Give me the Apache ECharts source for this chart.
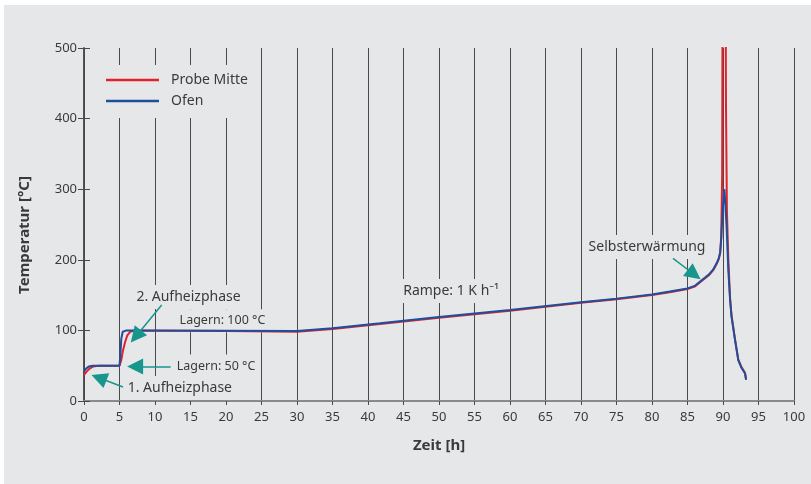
<!DOCTYPE html>
<html>
<head>
<meta charset="utf-8">
<script src="https://cdn.jsdelivr.net/npm/echarts@6/dist/echarts.min.js"></script>
<style>
  html, body { margin: 0; padding: 0; background: #ffffff; }
  #chart { position: absolute; left: 4px; top: 5px; width: 807px; height: 479px; }
</style>
</head>
<body>
<div id="chart"></div>
<script>
// Furnace temperature (Ofen) over time [h] -> [°C]
const ofenTime = [0, 0.3, 0.7, 1.2, 5.0, 5.12, 5.25, 5.45, 6, 10, 20, 30, 35, 41.7, 50, 60, 70, 75, 80, 82.5, 85, 86, 87, 88, 88.6, 89.1, 89.4, 89.6, 89.75, 89.85, 90.05, 90.2, 90.5, 90.75, 91.0, 91.2, 91.7, 92.15, 92.6, 93.1, 93.25];
const ofenTemp = [42, 46, 49, 50, 50, 65, 88, 98, 100, 100, 99.5, 99, 103, 110, 119, 129, 140, 145, 151, 155, 159.5, 163, 171, 179, 186, 195, 202, 210, 230, 250, 285, 300, 248, 185, 143, 120, 86, 58, 47, 39, 30];

// Sample centre temperature (Probe Mitte)
const probeTime = [0, 0.4, 0.8, 1.3, 2.0, 5.0, 5.25, 5.5, 5.8, 6.1, 6.5, 7.0, 10, 20, 30, 35, 41.7, 50, 60, 70, 75, 80, 82.5, 85, 86, 87, 88, 88.6, 89.1, 89.4, 89.6, 89.75, 89.88, 89.97, 90.33, 90.42, 90.55, 90.75, 91.0, 91.2, 91.7, 92.15, 92.6, 93.1, 93.25];
const probeTemp = [37, 42, 46, 49, 50, 50, 58, 72, 84, 93, 98, 99.5, 99.5, 99, 98, 102, 109, 118, 128, 139, 144, 150, 154, 158.5, 162, 170, 178, 185, 194, 201, 210, 232, 320, 700, 700, 420, 270, 200, 145, 121, 87, 59, 48, 40, 31];

const seriesNames = ['Probe Mitte', 'Ofen'];

// Axis ranges
const xRange = { min: 0, max: 100, step: 5 };
const yRange = { min: 0, max: 500, step: 100 };

// Text annotations: [label, time, temperature, font size]
const notes = [
  ['2. Aufheizphase', 14.72, 147.3, 14],
  ['Lagern: 100 °C', 19.5, 113.5, 12.5],
  ['Lagern: 50 °C', 18.6, 49.5, 12.5],
  ['1. Aufheizphase', 13.5, 18.5, 14],
  ['Rampe: 1 K h\u207B\u00B9', 51.7, 155.8, 14],
  ['Selbsterwärmung', 79.3, 218, 14]
];

// Arrows: [fromTime, fromTemp, toTime, toTemp]
const arrows = [
  [10.94, 136, 7.3, 91.5],
  [12.2, 49, 7.2, 49],
  [5.49, 19.8, 2.1, 32.9],
  [82.96, 202, 85.95, 179.2]
];

const zip = (ts, vs) => ts.map((t, i) => [t, vs[i]]);

const BG = '#e6e7e9';
const AX = '#4a4a4a';
const TXT = '#3a3a3a';
const TEAL = '#17968e';
const FONT = '"Noto Sans", sans-serif';

const chart = echarts.init(document.getElementById('chart'), null, { renderer: 'canvas' });

// Shared y scale settings
const yScale = { type: 'value', min: yRange.min, max: yRange.max, interval: yRange.step };

chart.setOption({
  animation: false,
  backgroundColor: BG,
  textStyle: { fontFamily: FONT, color: TXT },
  grid: { left: 80, top: 43, right: 17, bottom: 83 },
  legend: {
    orient: 'vertical',
    left: 92,
    top: 60,
    backgroundColor: BG,
    padding: [8, 10, 10, 10],
    itemGap: 7,
    itemWidth: 53,
    itemHeight: 2.5,
    icon: 'rect',
    data: seriesNames,
    textStyle: { fontFamily: FONT, fontSize: 14, color: TXT, lineHeight: 14, padding: [0, 0, 0, 7] }
  },
  xAxis: [
    {
      type: 'value',
      min: xRange.min, max: xRange.max, interval: xRange.step,
      position: 'bottom',
      name: 'Zeit [h]',
      nameLocation: 'middle',
      nameGap: 37,
      nameTextStyle: { fontFamily: FONT, fontSize: 15, fontWeight: 'bold', color: TXT },
      axisLine: { show: true, lineStyle: { color: AX, width: 1.5 } },
      axisTick: { show: true, inside: false, length: 4, lineStyle: { color: AX, width: 1 } },
      axisLabel: { fontFamily: FONT, fontSize: 13, color: TXT, margin: 10 },
      splitLine: { show: true, lineStyle: { color: AX, width: 1 } }
    },
    {
      type: 'value',
      min: xRange.min, max: xRange.max, interval: xRange.step,
      position: 'top',
      axisLine: { show: true, lineStyle: { color: '#8a8a8a', width: 2 } },
      axisTick: { show: false },
      axisLabel: { show: false },
      splitLine: { show: false }
    }
  ],
  yAxis: [
    Object.assign({}, yScale, {
      position: 'left',
      name: 'Temperatur [°C]',
      nameLocation: 'middle',
      nameGap: 52,
      nameTextStyle: { fontFamily: FONT, fontSize: 15, fontWeight: 'bold', color: TXT, padding: [0, 21, 0, 0] },
      axisLine: { show: true, lineStyle: { color: AX, width: 1.5 } },
      axisTick: { show: false },
      axisLabel: { fontFamily: FONT, fontSize: 13, color: TXT, margin: 7 },
      splitLine: { show: false }
    }),
    Object.assign({}, yScale, {
      position: 'right',
      axisLine: { show: true, lineStyle: { color: AX, width: 1.5 } },
      axisTick: { show: true, inside: true, length: 6, lineStyle: { color: AX } },
      axisLabel: { show: false },
      splitLine: { show: false }
    }),
    // inward tick marks along the left edge
    Object.assign({}, yScale, {
      position: 'left',
      offset: 0,
      axisLine: { show: false },
      axisTick: { show: true, inside: true, length: 6, lineStyle: { color: AX } },
      axisLabel: { show: false },
      splitLine: { show: false }
    })
  ],
  series: [
    {
      name: seriesNames[0],
      type: 'line',
      data: zip(probeTime, probeTemp),
      showSymbol: false,
      symbol: 'none',
      clip: true,
      color: '#e1222b',
      lineStyle: { color: '#e1222b', width: 2 },
      silent: true,
      z: 3,
      markPoint: {
        silent: true,
        z: 1,
        symbol: 'rect',
        symbolSize: 1,
        itemStyle: { color: 'rgba(0,0,0,0)' },
        data: notes.map(n => ({
          coord: [n[1], n[2]],
          label: {
            show: true,
            position: 'inside',
            formatter: n[0],
            fontFamily: FONT,
            fontSize: n[3],
            color: TXT,
            backgroundColor: BG,
            padding: [5, 3, 5, 3]
          }
        }))
      }
    },
    {
      name: seriesNames[1],
      type: 'line',
      data: zip(ofenTime, ofenTemp),
      showSymbol: false,
      symbol: 'none',
      clip: true,
      color: '#1f4f9c',
      lineStyle: { color: '#1f4f9c', width: 2 },
      silent: true,
      z: 4,
      markLine: {
        silent: true,
        symbol: ['none', 'triangle'],
        symbolSize: 16,
        label: { show: false },
        lineStyle: { color: TEAL, width: 1.5, type: 'solid' },
        itemStyle: { color: TEAL },
        data: arrows.map(a => [{ coord: [a[0], a[1]] }, { coord: [a[2], a[3]] }])
      }
    }
  ]
});
</script>
</body>
</html>
